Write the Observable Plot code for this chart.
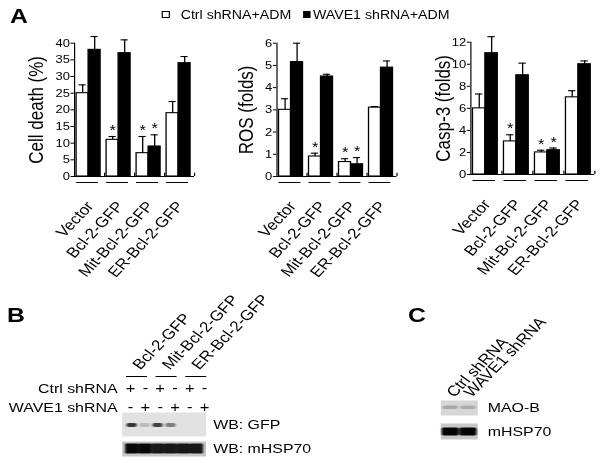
<!DOCTYPE html>
<html><head><meta charset="utf-8">
<script src="https://cdn.jsdelivr.net/npm/d3@7"></script>
<script src="https://cdn.jsdelivr.net/npm/@observablehq/plot@0.6"></script>
<style>
html,body{margin:0;padding:0;background:#fff;}
#wrap{width:600px;height:462px;overflow:hidden;position:relative;background:#fff;}
#fig{position:absolute;left:0;top:0;height:462px;transform-origin:0 0;font-family:"Liberation Sans",Arial,Helvetica,sans-serif;color:#000;}
#fig svg{position:absolute;max-width:none;overflow:visible;}
.lab{position:absolute;font-weight:bold;font-size:21px;line-height:21px;}
.leg{position:absolute;font-size:12px;line-height:12px;white-space:nowrap;}
.sw{position:absolute;box-sizing:border-box;border:1px solid #000;}
</style></head><body>
<div id="wrap"><div id="fig"></div></div>
<script>
// ---------- DATA ----------
const groups = ["Vector", "Bcl-2-GFP", "Mit-Bcl-2-GFP", "ER-Bcl-2-GFP"];
const seriesNames = ["Ctrl shRNA+ADM", "WAVE1 shRNA+ADM"];
const cellDeathCtrl = [25, 11, 7, 19];
const cellDeathCtrlErr = [2.5, 1, 5, 3.5];
const cellDeathWave = [38, 37, 9, 34];
const cellDeathWaveErr = [4, 4, 3.5, 2];
const rosCtrl = [3.0, 0.9, 0.65, 3.1];
const rosCtrlErr = [0.5, 0.15, 0.15, 0.05];
const rosWave = [5.15, 4.5, 0.55, 4.9];
const rosWaveErr = [0.85, 0.1, 0.3, 0.3];
const caspCtrl = [6, 3, 2, 7];
const caspCtrlErr = [1.3, 0.6, 0.2, 0.6];
const caspWave = [11, 9, 2.2, 10];
const caspWaveErr = [1.5, 1.1, 0.2, 0.3];
const sigCtrl = [false, true, true, false];
const sigWave = [false, false, true, false];

const blotLaneGroups = ["Bcl-2-GFP", "Mit-Bcl-2-GFP", "ER-Bcl-2-GFP"];
const treatmentRows = ["Ctrl shRNA", "WAVE1 shRNA"];
const ctrlSigns = ["+", "-", "+", "-", "+", "-"];
const waveSigns = ["-", "+", "-", "+", "-", "+"];
const gfpBands = [0.85, 0.2, 0.8, 0.5, 0, 0];
const hspBandsB = [1, 1, 0.92, 0.92, 0.92, 0.92];
const laneLabelsC = ["Ctrl shRNA", "WAVE1 shRNA"];
const maoBands = [0.22, 0.2];
const hspBandsC = [1, 1];

// ---------- LAYOUT ----------
const SX = 1.18;              // horizontal stretch of the original figure
const L = v => v / SX;        // page px -> logical px
const FONT = '"Liberation Sans", Arial, Helvetica, sans-serif';
const fig = document.getElementById("fig");
fig.style.width = L(600) + "px";
fig.style.transform = `scaleX(${SX})`;

function place(svg, left, top) {
  svg.style.left = L(left) + "px";
  svg.style.top = top + "px";
  fig.appendChild(svg);
}
function html(cls, text, left, top, extra = {}) {
  const d = document.createElement("div");
  d.className = cls; d.textContent = text;
  d.style.left = L(left) + "px"; d.style.top = top + "px";
  Object.assign(d.style, extra);
  fig.appendChild(d);
}
const baseStyle = {background: "none", fontFamily: FONT, color: "black", overflow: "visible"};

// ---------- PANEL A ----------
const O = 0.07, BW = 0.4;
function barChart({ctrl, ctrlErr, wave, waveErr, yMax, yStep, yLabel, left, width, x0, x1, yTop, y0, labelDx}) {
  const rows = groups.flatMap((g, i) => [
    {g, i, s: 0, v: ctrl[i], e: ctrlErr[i], sig: sigCtrl[i]},
    {g, i, s: 1, v: wave[i], e: waveErr[i], sig: sigWave[i]}
  ]);
  const lo = d => d.i + O + d.s * BW, hi = d => lo(d) + BW, mid = d => lo(d) + BW / 2;
  const H = 270;
  const svg = Plot.plot({
    width: L(width), height: H,
    marginLeft: L(x0 - left), marginRight: L(left + width - x1),
    marginTop: yTop, marginBottom: H - y0,
    style: {...baseStyle, fontSize: "11px"},
    x: {domain: [0, groups.length], axis: null},
    y: {domain: [0, yMax], ticks: d3.range(0, yMax + 1e-9, yStep), tickFormat: d => String(d),
        tickSize: 3, tickPadding: 1, line: true, label: null},
    marks: [
      Plot.rect(rows.filter(d => d.s === 0), {x1: lo, x2: hi, y1: 0, y2: "v", fill: "white", stroke: "black", strokeWidth: 1.1}),
      Plot.rect(rows.filter(d => d.s === 1), {x1: lo, x2: hi, y1: 0, y2: "v", fill: "black", stroke: "black", strokeWidth: 1.1}),
      Plot.ruleX(rows, {x: mid, y1: "v", y2: d => d.v + d.e, strokeWidth: 1.1}),
      Plot.ruleY(rows, {x1: d => mid(d) - 0.12, x2: d => mid(d) + 0.12, y: d => d.v + d.e, strokeWidth: 1.1}),
      Plot.text(rows.filter(d => d.sig), {x: mid, y: d => d.v + d.e, text: d => "*", fontSize: 14, dy: -6}),
      Plot.ruleY([0], {strokeWidth: 1.1}),
      Plot.ruleX(groups, {x: (d, i) => i + 1, y1: 0, y2: yMax * 0.025, strokeWidth: 1}),
      Plot.ruleY(groups, {x1: (d, i) => i + O, x2: (d, i) => i + O + 0.73, y: 0, dy: 6, strokeWidth: 1}),
      Plot.text(groups, {x: (d, i) => i + O + 0.4, y: 0, dx: L(1.5), dy: 27, rotate: -51, textAnchor: "end", fontSize: 14.5, text: d => d}),
      Plot.text([yLabel], {frameAnchor: "left", textAnchor: "middle", rotate: -90, dx: L(labelDx), fontSize: 17, text: d => d})
    ]
  });
  place(svg, left, 0);
}

barChart({ctrl: cellDeathCtrl, ctrlErr: cellDeathCtrlErr, wave: cellDeathWave, waveErr: cellDeathWaveErr,
  yMax: 40, yStep: 5, yLabel: "Cell death (%)", left: 0, width: 200, x0: 74, x1: 194, yTop: 42.7, y0: 176, labelDx: -38});
barChart({ctrl: rosCtrl, ctrlErr: rosCtrlErr, wave: rosWave, waveErr: rosWaveErr,
  yMax: 6, yStep: 1, yLabel: "ROS (folds)", left: 200, width: 200, x0: 277, x1: 397, yTop: 42.7, y0: 176, labelDx: -30});
barChart({ctrl: caspCtrl, ctrlErr: caspCtrlErr, wave: caspWave, waveErr: caspWaveErr,
  yMax: 12, yStep: 2, yLabel: "Casp-3 (folds)", left: 395, width: 205, x0: 470, x1: 594, yTop: 41.7, y0: 174, labelDx: -27});

// legend
html("sw", "", 162, 10.7, {width: L(7.6) + "px", height: "7.6px", background: "#fff"});
html("leg", seriesNames[0], 180.7, 9.1);
html("sw", "", 303, 10.7, {width: L(7.6) + "px", height: "7.6px", background: "#000"});
html("leg", seriesNames[1], 313, 9.1);

// panel letters
html("lab", "A", 10, 4.7);
html("lab", "B", 7, 303.7);
html("lab", "C", 408, 303.7);

// ---------- PANEL B header ----------
const signRows = [
  ...ctrlSigns.map((s, i) => ({lane: i, row: 0, s})),
  ...waveSigns.map((s, i) => ({lane: i, row: 1, s}))
];
place(Plot.plot({
  width: L(240), height: 120, marginLeft: L(130), marginRight: L(36), marginTop: 88, marginBottom: 13,
  style: {...baseStyle, fontSize: "13px"},
  x: {domain: [0, 5], axis: null},
  y: {domain: [0, 1], reverse: true, axis: null},
  marks: [
    Plot.text(signRows, {x: "lane", y: "row", text: "s", fontSize: 14}),
    Plot.text(treatmentRows, {y: (d, i) => i, frameAnchor: "left", textAnchor: "end", dx: L(-13), fontSize: 13.5, text: d => d}),
    Plot.ruleY(blotLaneGroups, {x1: (d, i) => 2 * i - 0.27, x2: (d, i) => 2 * i + 1.15, y: 0, dy: -12, strokeWidth: 1}),
    Plot.text(blotLaneGroups, {x: (d, i) => 2 * i + 0.5, y: 0, dx: L(-2), dy: -21, rotate: -50, textAnchor: "start", fontSize: 14.5, text: d => d})
  ]
}), 0, 300);

// ---------- blots ----------
function blot({bands, label, left, right, top, bottom, bandTop, bandBottom, bg, ink, sideInset, gap, rx = 2, extras = []}) {
  const wb = L(right - left), wl = L(130);
  const rows = bands.map((v, i) => ({lane: i, v})).filter(d => d.v > 0);
  const mix = d3.interpolateRgb(bg, ink);
  const svg = Plot.plot({
    width: wb + wl, height: bottom - top,
    marginLeft: 0, marginRight: wl, marginTop: 0, marginBottom: 0,
    style: {...baseStyle, fontSize: "13.5px"},
    x: {type: "band", domain: d3.range(bands.length), padding: 0, axis: null},
    y: {type: "band", domain: [label], padding: 0, axis: "right", tickSize: 0, tickPadding: L(gap), label: null},
    color: {type: "identity"},
    marks: [
      Plot.frame({fill: bg, stroke: "none"}),
      Plot.cell(rows, {x: "lane", y: () => label, fill: d => mix(d.v),
        insetTop: bandTop - top, insetBottom: bottom - bandBottom,
        insetLeft: L(sideInset), insetRight: L(sideInset), rx, imageFilter: "blur(0.7px)"}),
      ...extras
    ]
  });
  place(svg, left, top);
}

blot({bands: gfpBands, label: "WB: GFP", left: 122, right: 206, top: 412, bottom: 436, bandTop: 423, bandBottom: 427,
  bg: "#e2e2e2", ink: "#1a1a1a", sideInset: 1.2, gap: 7});
blot({bands: hspBandsB, label: "WB: mHSP70", left: 122, right: 206, top: 440.5, bottom: 455.5, bandTop: 443, bandBottom: 453,
  bg: "#c6c6c6", ink: "#080808", sideInset: 0, rx: 1, gap: 7});

blot({bands: maoBands, label: "MAO-B", left: 440, right: 477, top: 400, bottom: 415, bandTop: 405.5, bandBottom: 409,
  bg: "#d6d6d6", ink: "#000", sideInset: 1.2, gap: 10,
  extras: [Plot.text(laneLabelsC, {x: (d, i) => i, frameAnchor: "top", rotate: -50, textAnchor: "start", dx: L(-6), dy: -9, fontSize: 14.5, text: d => d})]});
blot({bands: hspBandsC, label: "mHSP70", left: 440, right: 477, top: 423, bottom: 439, bandTop: 427.5, bandBottom: 435.5,
  bg: "#c8c8c8", ink: "#050505", sideInset: 0.3, rx: 1.5, gap: 10});
</script></body></html>
